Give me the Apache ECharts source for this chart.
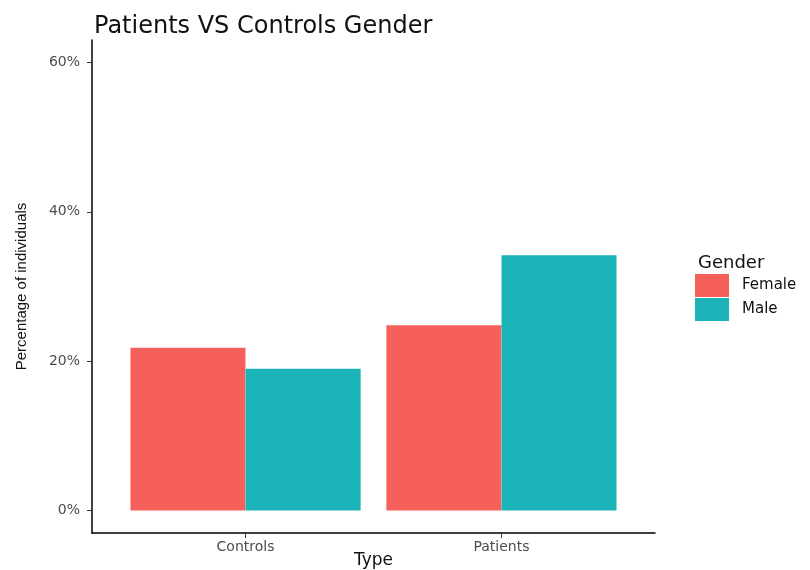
<!DOCTYPE html>
<html><head><meta charset="utf-8">
<script src="https://cdn.jsdelivr.net/npm/echarts@6/dist/echarts.min.js"></script>
<style>html,body{margin:0;padding:0;background:#fff}#c{width:810px;height:570px}</style>
</head><body><div id="c"></div>
<script>
const categories = ['Controls', 'Patients'];
const femaleValues = [21.8, 24.8];
const maleValues = [19.0, 34.2];
const yTicks = [0, 20, 40, 60];
const seriesNames = ['Female', 'Male'];

const dodge = 0.225;
const femaleData = categories.map((c, i) => [i + 1 - dodge, femaleValues[i]]);
const maleData = categories.map((c, i) => [i + 1 + dodge, maleValues[i]]);
const xTickVals = categories.map((c, i) => i + 1);

const font = 'DejaVu Sans, Liberation Sans, sans-serif';
const chart = echarts.init(document.getElementById('c'), null, {renderer: 'canvas'});
chart.setOption({
  animation: false,
  textStyle: {fontFamily: font},
  title: [
    {text: 'Patients VS Controls Gender', left: 89, top: 10,
     textStyle: {fontSize: 24, fontWeight: 'normal', color: '#111', fontFamily: font}},
    {text: 'Gender', left: 693, top: 249,
     textStyle: {fontSize: 18, fontWeight: 'normal', color: '#111', fontFamily: font}}
  ],
  legend: {
    orient: 'vertical', left: 695, top: 274, padding: 0,
    itemWidth: 34, itemHeight: 23, itemGap: 1,
    icon: 'rect',
    textStyle: {fontSize: 15, color: '#111', fontFamily: font, padding: [2, 0, 0, 8]},
    data: seriesNames
  },
  grid: {left: 92, right: 155, top: 40, bottom: 37, containLabel: false, outerBoundsMode: 'none'},
  xAxis: {
    type: 'value', min: 0.4, max: 2.6,
    name: 'Type', nameLocation: 'middle', nameGap: 19, nameMoveOverlap: false,
    nameTextStyle: {fontSize: 17, color: '#111', fontFamily: font, verticalAlign: 'top'},
    splitLine: {show: false},
    axisLine: {show: true, onZero: false, lineStyle: {color: '#000', width: 1.5}},
    axisTick: {show: true, customValues: xTickVals, length: 5, lineStyle: {color: '#333'}},
    axisLabel: {show: true, customValues: xTickVals, fontSize: 14, color: '#4d4d4d', margin: 7,
      formatter: v => categories[Math.round(v) - 1] || ''}
  },
  yAxis: {
    type: 'value', min: -3, max: 63,
    name: 'Percentage of individuals', nameLocation: 'middle', nameGap: 63, nameRotate: 90, nameMoveOverlap: false,
    nameTextStyle: {fontSize: 15, color: '#111', fontFamily: 'Liberation Sans, Arial, sans-serif'},
    splitLine: {show: false},
    axisLine: {show: true, onZero: false, lineStyle: {color: '#000', width: 1.5}},
    axisTick: {show: true, customValues: yTicks, length: 5, lineStyle: {color: '#333'}},
    axisLabel: {show: true, customValues: yTicks, fontSize: 14, color: '#4d4d4d', margin: 12,
      formatter: v => v + '%'}
  },
  series: [
    {name: seriesNames[0], type: 'bar', data: femaleData, barWidth: 115, barGap: '-100%',
     itemStyle: {color: '#F5605B'}},
    {name: seriesNames[1], type: 'bar', data: maleData, barWidth: 115, barGap: '-100%',
     itemStyle: {color: '#19B3B8'}}
  ]
});
</script></body></html>
